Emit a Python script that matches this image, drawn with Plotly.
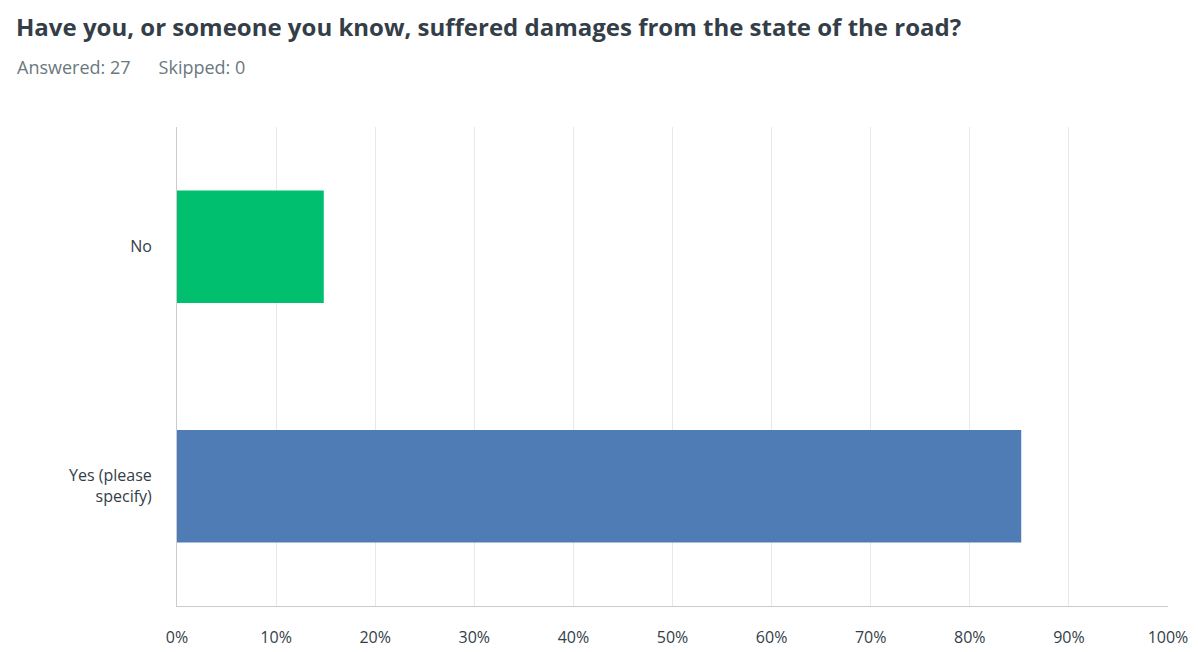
import plotly.graph_objects as go

# Survey answers (share of 27 respondents)
categories = ["No", "Yes (please<br>specify)"]
shares = [14.81, 85.19]
bar_colors = ["#00bf6f", "#507cb6"]
x_ticks = [0, 10, 20, 30, 40, 50, 60, 70, 80, 90, 100]
x_tick_labels = [f"{t}%" for t in x_ticks]

TITLE = "Have you, or someone you know, suffered damages from the state of the road?"
SUBTITLE = "Answered: 27" + "&nbsp;" * 6 + "Skipped: 0"

# page body adds ~8px offset, so margins are trimmed by that amount
W, H = 1198, 652
ML, MR, MT, MB = 169, 38, 119, 54
plot_w = W - ML - MR
plot_h = H - MT - MB


def px_to_paper(x, y):
    """Pixel position in the figure -> paper coordinates."""
    return (x - ML) / plot_w, (H - y - MB) / plot_h


fig = go.Figure(
    go.Bar(
        x=shares,
        y=categories,
        orientation="h",
        marker=dict(color=bar_colors, line=dict(width=0)),
        width=0.47,
        hoverinfo="skip",
    )
)

tx, ty = px_to_paper(7, 1)
sx, sy = px_to_paper(7, 59)
fig.update_layout(
    width=W,
    height=H,
    paper_bgcolor="white",
    plot_bgcolor="white",
    margin=dict(l=ML, r=MR, t=MT, b=MB),
    showlegend=False,
    font=dict(family="Open Sans, sans-serif", color="#333e48"),
    annotations=[
        dict(
            text=f"<b>{TITLE}</b>", x=tx, y=ty, xref="paper", yref="paper",
            showarrow=False, xanchor="left", yanchor="top", borderpad=0,
            font=dict(size=24, color="#333e48", family="Open Sans, sans-serif"),
        ),
        dict(
            text=SUBTITLE, x=sx, y=sy, xref="paper", yref="paper",
            showarrow=False, xanchor="left", yanchor="middle",
            font=dict(size=18, color="#6b7880", family="Open Sans, sans-serif"),
        ),
    ],
)

fig.update_xaxes(
    range=[0, 100],
    tickvals=x_ticks,
    ticktext=x_tick_labels,
    showgrid=True,
    gridcolor="#e8e8e8",
    gridwidth=1,
    zeroline=False,
    showline=True,
    linecolor="#cccccc",
    linewidth=1,
    ticks="",
    ticklabelstandoff=17,
    tickfont=dict(size=16, color="#333e48"),
    fixedrange=True,
)
fig.update_yaxes(
    categoryorder="array",
    categoryarray=categories[::-1],
    showgrid=False,
    showline=True,
    linecolor="#cccccc",
    linewidth=1,
    ticks="",
    ticklabelstandoff=21,
    tickfont=dict(size=16, color="#333e48"),
    fixedrange=True,
)

fig.write_html("out.html", config={"displayModeBar": False})
